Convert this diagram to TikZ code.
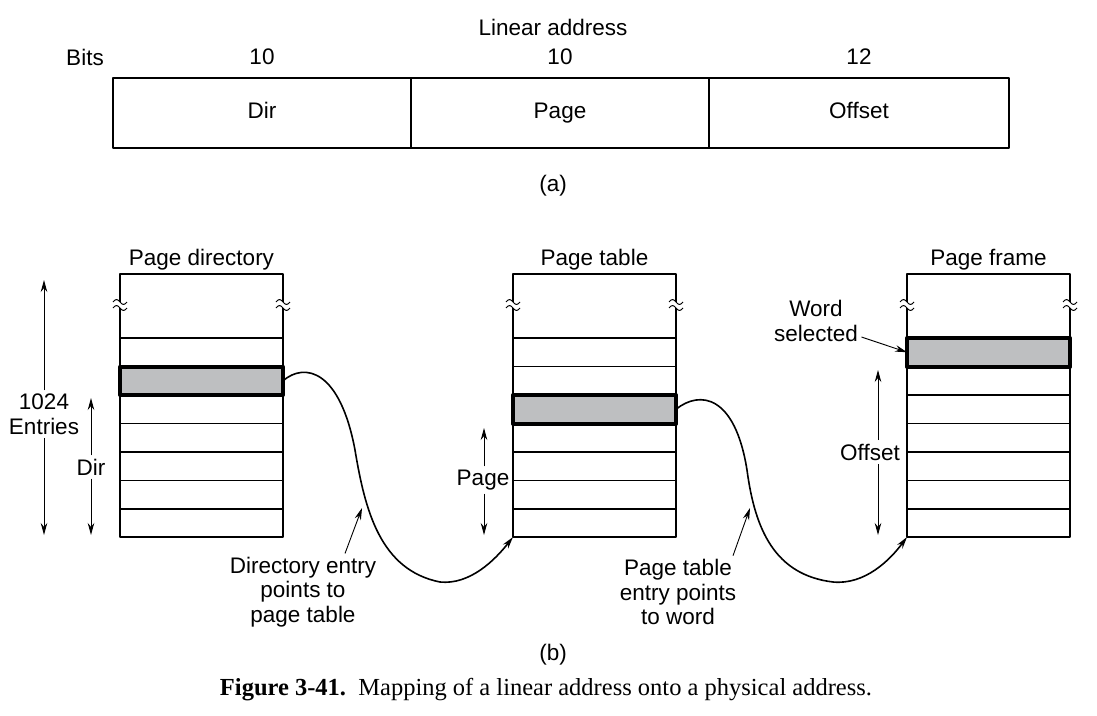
\documentclass[tikz,border=0pt]{standalone}
\usepackage{fontspec}
\setmainfont{Liberation Sans}
\newfontfamily\capfont{Liberation Serif}
\usetikzlibrary{positioning,arrows.meta}
\definecolor{selgray}{RGB}{190,191,193}
\tikzset{
	fld/.style={draw,line width=1.8pt,outer sep=0pt,minimum width=298pt,minimum height=70pt,text height=16pt,text depth=5pt},
	tbl/.style={draw,line width=1.8pt,outer sep=0pt,minimum width=163pt,minimum height=263pt,anchor=north west},
	selrow/.style={draw,line width=4pt,fill=selgray,outer sep=0pt,minimum width=163pt,minimum height=28.5pt,anchor=north west},
	dim/.style={->,line width=0.9pt},
	ptr/.style={->,line width=1.6pt},
}
\begin{document}
\begin{tikzpicture}[x=1pt,y=-1pt,>={Stealth[length=12pt,width=6.5pt]},font=\fontsize{22.5}{24.5}\selectfont,line join=round]
	\useasboundingbox (0,0) rectangle (1097,715);
	\def\ytop{274} \def\yrow{338} \def\rh{28.5} % first row, row height
	% (a) linear address
	\node[fld,anchor=west] (dir) at (113,113) {Dir};
	\node[fld,right=0pt of dir] (page) {Page};
	\node[fld,right=0pt of page,minimum width=300pt] (off) {Offset};
	\node (lin) at (553,27) {Linear address};
	\node (bits) at (85,57) {Bits};
	\node (dbit) at (dir |- bits) {10};
	\node (pbit) at (page |- bits) {10};
	\node (obit) at (off |- bits) {12};
	\node (capa) at (553,186) {(a)};
	% (b) tables
	\foreach \x/\n/\s/\t in {120/pdir/1/Page directory, 513/ptab/2/Page table, 907/pfrm/0/Page frame}{
		\node[tbl] (\n) at (\x,\ytop) {};
		\node[above=0pt of \n] (\n-lbl) {\t};
		\foreach \k in {0,...,6} \draw[line width=1.8pt] (\x,{\yrow+\k*\rh}) -- ++(163,0);
		\node[selrow] (\n-sel) at (\x,{\yrow+\s*\rh}) {};
		\foreach \bx in {\x,\x+163}{
			\fill[white] ({\bx-2},302) rectangle ({\bx+2},308);
			\draw[line width=1pt] ({\bx-7},302) sin ({\bx-3.5},299.5) cos (\bx,302) sin ({\bx+3.5},304.5) cos ({\bx+7},302);
			\draw[line width=1pt] ({\bx-7},308) sin ({\bx-3.5},305.5) cos (\bx,308) sin ({\bx+3.5},310.5) cos ({\bx+7},308);
		}
	}
	% dimension arrows
	\node[align=center] (ent) at (44,414) {1024\\Entries};
	\coordinate (ent-t) at (44,280); \coordinate (ent-b) at (44,535);
	\draw[dim] (ent) -- (ent-t); \draw[dim] (ent) -- (ent-b);
	\node (ddim) at (91,467) {Dir};
	\coordinate (ddim-t) at (91,398); \coordinate (ddim-b) at (91,535);
	\draw[dim] (ddim) -- (ddim-t); \draw[dim] (ddim) -- (ddim-b);
	\node (pdim) at (483,480) {Page};
	\coordinate (pdim-t) at (484,428); \coordinate (pdim-b) at (484,535);
	\draw[dim] (pdim.north -| pdim-t) -- (pdim-t); \draw[dim] (pdim.south -| pdim-b) -- (pdim-b);
	\node (odim) at (870,452) {Offset};
	\coordinate (odim-t) at (878,370); \coordinate (odim-b) at (878,535);
	\draw[dim] (odim.north -| odim-t) -- (odim-t); \draw[dim] (odim.south -| odim-b) -- (odim-b);
	% pointers
	\draw[ptr] (pdir-sel.east) .. controls (305,362) and (340,370) .. (355,450) .. controls (365,510) and (380,570) .. (440,582) .. controls (470,585) and (495,560) .. (ptab.south west);
	\draw[ptr] (ptab-sel.east) .. controls (700,390) and (735,395) .. (747,470) .. controls (755,530) and (775,575) .. (833,582) .. controls (865,585) and (890,560) .. (pfrm.south west);
	\node[align=center] (dlbl) at (303,592) {Directory entry\\points to\\page table};
	\coordinate (dtip) at (362,508);
	\draw[dim] ([xshift=42pt]dlbl.north) -- (dtip);
	\node[align=center] (plbl) at (678,592) {Page table\\entry points\\to word};
	\coordinate (ptip) at (750,508);
	\draw[dim] ([xshift=55pt]plbl.north) -- (ptip);
	\node[align=center] (wsel) at (816,321) {Word\\selected};
	\draw[dim] ([yshift=-16pt]wsel.east) -- (pfrm-sel.west);
	\node (capb) at (553,655) {(b)};
	\node[font=\capfont\fontsize{24.5}{28}\selectfont] (cap) at (546,690) {\textbf{Figure 3-41.}\enspace Mapping of a linear address onto a physical address.};
\end{tikzpicture}
\end{document}
